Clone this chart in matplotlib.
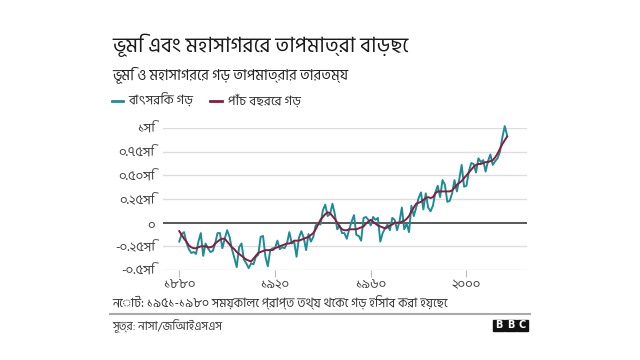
import matplotlib
matplotlib.use('Agg')
import matplotlib.pyplot as plt
from matplotlib import font_manager
from matplotlib.patches import Rectangle
from matplotlib.lines import Line2D

# GISTEMP land-ocean anomaly (°C, base 1951-1980)
years = list(range(1880, 2018))
annual = [
    -0.20, -0.12, -0.10, -0.21, -0.28, -0.32, -0.31, -0.33, -0.20, -0.11,
    -0.35, -0.22, -0.27, -0.31, -0.30, -0.22, -0.11, -0.11, -0.27, -0.17,
    -0.08, -0.15, -0.28, -0.37, -0.47, -0.26, -0.22, -0.39, -0.43, -0.48,
    -0.43, -0.44, -0.36, -0.34, -0.15, -0.14, -0.36, -0.46, -0.29, -0.27,
    -0.27, -0.19, -0.28, -0.26, -0.27, -0.22, -0.10, -0.22, -0.20, -0.36,
    -0.16, -0.09, -0.16, -0.29, -0.12, -0.20, -0.15, -0.03, -0.01, -0.02,
    0.13, 0.19, 0.07, 0.09, 0.20, 0.09, -0.07, -0.03, -0.11, -0.11,
    -0.17, -0.07, 0.01, 0.08, -0.13, -0.14, -0.19, 0.05, 0.06, 0.03,
    -0.03, 0.06, 0.03, 0.05, -0.20, -0.11, -0.06, -0.02, -0.08, 0.05,
    0.03, -0.08, 0.01, 0.16, -0.07, -0.01, -0.10, 0.18, 0.07, 0.16,
    0.26, 0.32, 0.14, 0.31, 0.16, 0.12, 0.18, 0.32, 0.39, 0.27,
    0.45, 0.40, 0.22, 0.23, 0.31, 0.45, 0.33, 0.46, 0.61, 0.38,
    0.39, 0.54, 0.63, 0.62, 0.53, 0.68, 0.64, 0.66, 0.54, 0.65,
    0.72, 0.61, 0.65, 0.68, 0.75, 0.90, 1.02, 0.92,
]
five_year = [
    -0.09, -0.13, -0.17, -0.20, -0.24, -0.26, -0.27, -0.27, -0.26, -0.25,
    -0.25, -0.25, -0.26, -0.26, -0.25, -0.22, -0.20, -0.18, -0.17, -0.17,
    -0.20, -0.23, -0.26, -0.28, -0.31, -0.33, -0.35, -0.37, -0.39, -0.40,
    -0.41, -0.38, -0.35, -0.32, -0.31, -0.30, -0.29, -0.29, -0.29, -0.29,
    -0.27, -0.26, -0.25, -0.24, -0.23, -0.22, -0.22, -0.21, -0.19, -0.19,
    -0.19, -0.18, -0.17, -0.16, -0.15, -0.13, -0.11, -0.07, -0.02, 0.03,
    0.06, 0.09, 0.11, 0.10, 0.07, 0.04, 0.00, -0.04, -0.07, -0.08,
    -0.08, -0.07, -0.07, -0.07, -0.07, -0.06, -0.05, -0.04, -0.01, 0.01,
    0.03, 0.01, -0.01, -0.03, -0.04, -0.05, -0.06, -0.05, -0.03, -0.02,
    0.00, 0.00, 0.00, 0.01, 0.02, 0.04, 0.07, 0.12, 0.16, 0.20,
    0.21, 0.22, 0.24, 0.26, 0.27, 0.26, 0.27, 0.31, 0.33, 0.33,
    0.33, 0.33, 0.33, 0.33, 0.34, 0.37, 0.40, 0.42, 0.44, 0.47,
    0.50, 0.53, 0.56, 0.59, 0.61, 0.62, 0.62, 0.63, 0.64, 0.64,
    0.65, 0.66, 0.69, 0.73, 0.78, 0.83, 0.87, 0.91,
]
y_ticks = [1.0, 0.75, 0.5, 0.25, 0.0, -0.25, -0.5]
y_labels = ['১সি', '০.৭৫সি', '০.৫০সি', '০.২৫সি', '০', '-০.২৫সি', '-০.৫সি']
x_ticks = [1880, 1920, 1960, 2000]
x_labels = ['১৮৮০', '১৯২০', '১৯৬০', '২০০০']

TEAL = '#1d8c97'
MAROON = '#8a1c3c'

installed = {f.name for f in font_manager.fontManager.ttflist}
bn = [n for n in ['Hind Siliguri', 'Noto Sans Bengali', 'Anek Bangla', 'FreeSans']
      if n in installed]
plt.rcParams['font.family'] = bn[:1] + ['DejaVu Sans']

fig = plt.figure(figsize=(6.4, 3.6), dpi=100)
ax = fig.add_axes([163 / 640, 1 - 270 / 360, 364 / 640, 142 / 360])

for v in y_ticks:
    if v == 0:
        ax.axhline(v, color='#4a4a4a', lw=1.3, zorder=1)
    else:
        ax.axhline(v, color='#dddddd', lw=1.0, zorder=0)

ax.plot(years, annual, color=TEAL, lw=1.4, zorder=2, clip_on=False)
ax.plot(years, five_year, color=MAROON, lw=1.4, zorder=3, clip_on=False)

ax.set_xlim(1873.2, 2025.3)
ax.set_ylim(-0.5, 1.0)
for s in ax.spines.values():
    s.set_visible(False)
ax.set_yticks(y_ticks)
ax.set_yticklabels(y_labels)
ax.set_xticks(x_ticks)
ax.set_xticklabels(x_labels)
ax.tick_params(axis='y', length=0, pad=6, labelsize=9.5, labelcolor='#404040')
ax.tick_params(axis='x', length=5, width=0.8, color='#bbbbbb', pad=1,
               labelsize=9.5, labelcolor='#404040')

fig.text(112 / 640, 1 - 45 / 360, 'ভূমি এবং মহাসাগরের তাপমাত্রা বাড়ছে',
         fontsize=15, color='#1a1a1a', va='center', ha='left')
fig.text(112 / 640, 1 - 75 / 360, 'ভূমি ও মহাসাগরের গড় তাপমাত্রার তারতম্য',
         fontsize=10.5, color='#222222', va='center', ha='left')

# legend
fig.lines.append(Line2D([112 / 640, 123 / 640], [1 - 101 / 360] * 2,
                        color=TEAL, lw=2, transform=fig.transFigure))
fig.text(128 / 640, 1 - 101 / 360, 'বাৎসরিক গড়', fontsize=9.5,
         color='#333333', va='center', ha='left')
fig.lines.append(Line2D([210 / 640, 222 / 640], [1 - 101 / 360] * 2,
                        color=MAROON, lw=2, transform=fig.transFigure))
fig.text(228 / 640, 1 - 101 / 360, 'পাঁচ বছরের গড়', fontsize=9.5,
         color='#333333', va='center', ha='left')

fig.text(112 / 640, 1 - 303 / 360,
         'নোট: ১৯৫১-১৯৮০ সময়কালে প্রাপ্ত তথ্য থেকে গড় হিসাব করা হয়েছে',
         fontsize=9, color='#333333', va='center', ha='left')
fig.lines.append(Line2D([110 / 640, 530 / 640], [1 - 314 / 360] * 2,
                        color='#aaaaaa', lw=1.5, transform=fig.transFigure))
fig.text(112 / 640, 1 - 326 / 360, 'সূত্র: নাসা/জিআইএসএস',
         fontsize=8.5, color='#333333', va='center', ha='left')

# BBC blocks
for i, ch in enumerate('BBC'):
    x0 = (493 + i * 12) / 640
    fig.patches.append(Rectangle((x0, 1 - 331 / 360), 11 / 640, 11 / 360,
                                 color='#111111', transform=fig.transFigure))
    fig.text(x0 + 5.5 / 640, 1 - 325.5 / 360, ch, fontsize=7, color='white',
             fontweight='bold', ha='center', va='center', family='DejaVu Sans')

fig.savefig('out.png', dpi=100)
